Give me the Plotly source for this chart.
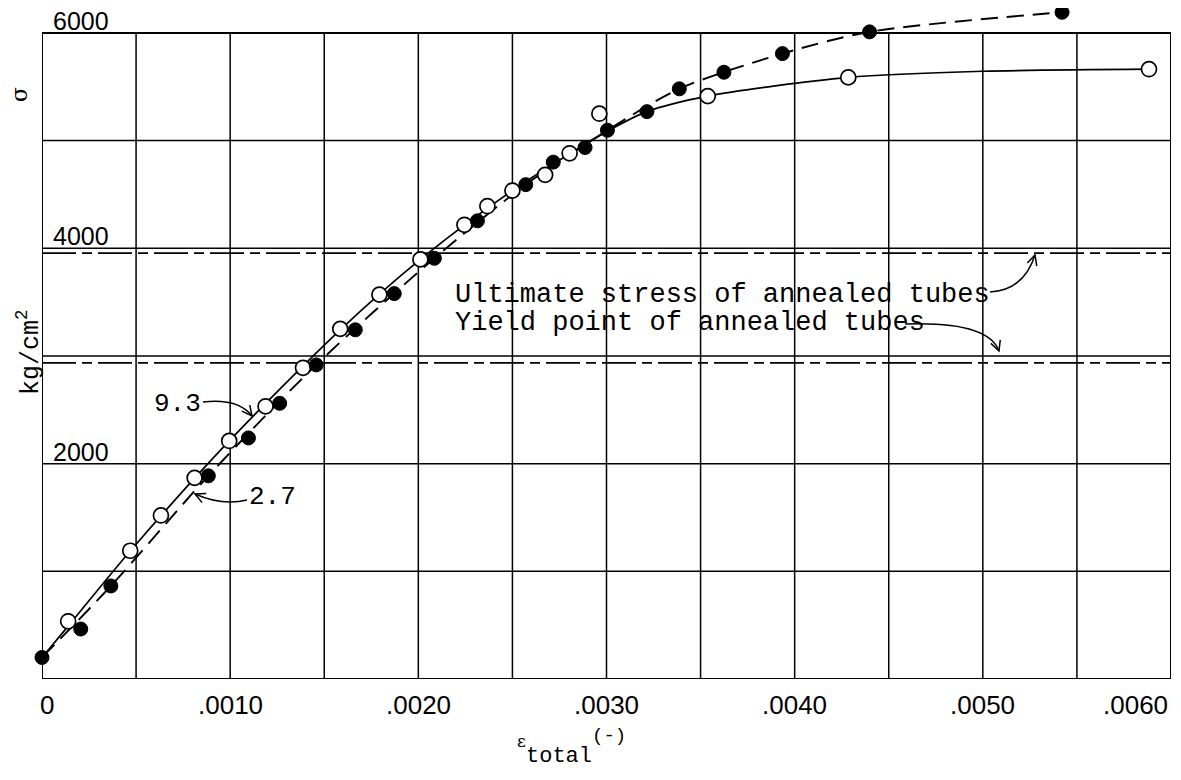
import math
import plotly.graph_objects as go

# ---------------- data ----------------
# open circles (curve "9.3", solid line)
open_x = [0.000139, 0.000469, 0.000632, 0.000811, 0.000995, 0.001188, 0.001387,
          0.001585, 0.001793, 0.002011, 0.002245, 0.002367, 0.002500, 0.002674,
          0.002804, 0.002962, 0.003538, 0.004285, 0.005883]
open_y = [536, 1191, 1519, 1868, 2211, 2532, 2890,
          3252, 3570, 3897, 4218, 4391, 4536, 4682,
          4882, 5250, 5413, 5587, 5663]

# filled circles (curve "2.7", dashed line)
filled_x = [0.0, 0.000206, 0.000366, 0.000884, 0.001097, 0.001263, 0.001457,
            0.001665, 0.001872, 0.002085, 0.002314, 0.002571, 0.002717, 0.002886,
            0.003005, 0.003215, 0.003387, 0.003624, 0.003935, 0.004398, 0.005421]
filled_y = [200, 464, 864, 1887, 2239, 2560, 2917,
            3243, 3579, 3907, 4255, 4591, 4800, 4936,
            5096, 5269, 5481, 5635, 5808, 6010, 6192]

# faired curves
curve93_x = [0.0, 0.000139, 0.000469, 0.000995, 0.001585, 0.002011, 0.002500,
             0.003005, 0.003215, 0.003538, 0.004285, 0.005000, 0.005883]
curve93_y = [200, 491, 1189, 2211, 3243, 3897, 4536,
             5087, 5269, 5413, 5587, 5644, 5663]
curve27_x = [0.0, 0.000366, 0.000884, 0.001457, 0.002085, 0.002571,
             0.003005, 0.003387, 0.003935, 0.004398, 0.005421]
curve27_y = [200, 864, 1887, 2917, 3907, 4591,
             5096, 5481, 5808, 6010, 6192]

ultimate_stress = 3955
yield_point = 2935

x_grid = [0.0005, 0.0010, 0.0015, 0.0020, 0.0025, 0.0030,
          0.0035, 0.0040, 0.0045, 0.0050, 0.0055]
y_grid = [1000, 2000, 3000, 4000, 5000]
x_tick_vals = [0.0, 0.0010, 0.0020, 0.0030, 0.0040, 0.0050, 0.0060]
x_tick_text = ["0", ".0010", ".0020", ".0030", ".0040", ".0050", ".0060"]
y_tick_vals = [2000, 4000, 6000]
y_tick_text = ["2000", "4000", "6000"]

X_MAX = 0.006
Y_TOP = 6000
Y_RANGE_TOP = 6213

# ---------------- layout (page pixel geometry) ----------------
BODY = 8                      # default page margin of the html body
PLOT_L, PLOT_R = 42, 1171     # page x of plot area
PLOT_T, PLOT_B = 10, 679      # page y of plot area
W = 1181 - 2 * BODY
H = 780 - 2 * BODY
ML = PLOT_L - BODY
MT = PLOT_T - BODY
MR = W - (PLOT_R - BODY)
MB = H - (PLOT_B - BODY)
PW = PLOT_R - PLOT_L
PH = PLOT_B - PLOT_T


def px2x(px):
    return (px - PLOT_L) / PW * X_MAX


def py2y(py):
    return (PLOT_B - py) / PH * Y_RANGE_TOP


def px2p(px):
    return (px - PLOT_L) / PW


def py2p(py):
    return (PLOT_B - py) / PH


fig = go.Figure()

fig.add_trace(go.Scatter(x=curve93_x, y=curve93_y, mode="lines",
                         line=dict(color="black", width=1.7, shape="spline", smoothing=0.8),
                         hoverinfo="skip", showlegend=False))
fig.add_trace(go.Scatter(x=curve27_x, y=curve27_y, mode="lines",
                         line=dict(color="black", width=1.9, shape="spline", smoothing=0.8,
                                   dash="17px,9px"),
                         hoverinfo="skip", showlegend=False))
fig.add_trace(go.Scatter(x=open_x, y=open_y, mode="markers", cliponaxis=False,
                         marker=dict(symbol="circle", size=15, color="white",
                                     line=dict(color="black", width=1.7)),
                         showlegend=False))
fig.add_trace(go.Scatter(x=filled_x, y=filled_y, mode="markers", cliponaxis=False,
                         marker=dict(symbol="circle", size=14, color="black",
                                     line=dict(color="black", width=1)),
                         showlegend=False))

shapes = []
for xv in x_grid:
    shapes.append(dict(type="line", xref="x", yref="y", x0=xv, x1=xv, y0=0, y1=Y_TOP,
                       line=dict(color="black", width=1.5), layer="below"))
for yv in y_grid:
    shapes.append(dict(type="line", xref="x", yref="y", x0=0, x1=X_MAX, y0=yv, y1=yv,
                       line=dict(color="black", width=1.5), layer="below"))
shapes.append(dict(type="rect", xref="x", yref="y", x0=0, x1=X_MAX, y0=0, y1=Y_TOP,
                   line=dict(color="black", width=2), layer="below"))
for yv in (ultimate_stress, yield_point):
    shapes.append(dict(type="line", xref="x", yref="y", x0=0, x1=X_MAX, y0=yv, y1=yv,
                       line=dict(color="black", width=1.8, dash="34px,6px,10px,6px"),
                       layer="below"))


def pt(p):
    return "{},{}".format(px2x(p[0]), py2y(p[1]))


# curved leader arrows: (start, control, tip)
arrow_paths = [
    ((990, 292), (1024, 290), (1035, 255)),   # ultimate
    ((905, 324), (988, 321), (999, 351)),     # yield
    ((203, 402), (238, 398), (252, 416)),     # 9.3
    ((247, 500), (222, 506), (195, 494)),     # 2.7
]
for p0, c, p1 in arrow_paths:
    shapes.append(dict(type="path", xref="x", yref="y",
                       path="M {} Q {} {}".format(pt(p0), pt(c), pt(p1)),
                       line=dict(color="black", width=1.5)))
    dx, dy = p1[0] - c[0], p1[1] - c[1]
    n = math.hypot(dx, dy)
    ux, uy = dx / n, dy / n
    L, Wd = 10, 5
    a = (p1[0] - ux * L - uy * Wd, p1[1] - uy * L + ux * Wd)
    b = (p1[0] - ux * L + uy * Wd, p1[1] - uy * L - ux * Wd)
    shapes.append(dict(type="path", xref="x", yref="y",
                       path="M {} L {} L {}".format(pt(a), pt(p1), pt(b)),
                       line=dict(color="black", width=1.5)))

annotations = []
mono = "Liberation Mono"
sans = "Liberation Sans"

annotations += [
    dict(x=px2x(453), y=py2y(295), xref="x", yref="y", xanchor="left", yanchor="middle",
         text="Ultimate stress of annealed tubes", showarrow=False,
         font=dict(family=mono, size=27, color="black")),
    dict(x=px2x(453), y=py2y(323), xref="x", yref="y", xanchor="left", yanchor="middle",
         text="Yield point of annealed tubes", showarrow=False,
         font=dict(family=mono, size=27, color="black")),
    dict(x=px2x(177), y=py2y(404), xref="x", yref="y", xanchor="center", yanchor="middle",
         text="9.3", showarrow=False, font=dict(family=mono, size=26, color="black")),
    dict(x=px2x(272), y=py2y(497), xref="x", yref="y", xanchor="center", yanchor="middle",
         text="2.7", showarrow=False, font=dict(family=mono, size=26, color="black")),
]

# y tick labels (inside the frame, above the grid line)
for v, t in zip(y_tick_vals, y_tick_text):
    annotations.append(dict(x=0, y=v, xref="x", yref="y", xanchor="left", yanchor="bottom",
                            xshift=10, yshift=-3, borderpad=0, text=t, showarrow=False,
                            font=dict(family=sans, size=25, color="black")))

# x tick labels
for v, t in zip(x_tick_vals, x_tick_text):
    anchor = "center"
    shift = 0
    if v == 0.0:
        shift = 5
    if v == X_MAX:
        anchor = "right"
        shift = -1
    annotations.append(dict(x=v / X_MAX, y=0, xref="paper", yref="paper", xanchor=anchor,
                            yanchor="top", xshift=shift, yshift=-9, text=t, showarrow=False,
                            font=dict(family=sans, size=26, color="black")))

# axis titles
annotations += [
    dict(x=px2p(19), y=py2p(95), xref="paper", yref="paper", xanchor="center",
         yanchor="middle", text="σ", textangle=-90, showarrow=False,
         font=dict(family="DejaVu Serif", size=22, color="black")),
    dict(x=px2p(29), y=py2p(352), xref="paper", yref="paper", xanchor="center",
         yanchor="middle", text="kg/cm<sup>2</sup>", textangle=-90, showarrow=False,
         font=dict(family=mono, size=25, color="black")),
    dict(x=px2p(521), y=py2p(741), xref="paper", yref="paper", xanchor="center",
         yanchor="middle", text="ε", showarrow=False,
         font=dict(family="DejaVu Serif", size=17, color="black")),
    dict(x=px2p(559), y=py2p(756), xref="paper", yref="paper", xanchor="center",
         yanchor="middle", text="total", showarrow=False,
         font=dict(family=mono, size=22, color="black")),
    dict(x=px2p(609), y=py2p(736), xref="paper", yref="paper", xanchor="center",
         yanchor="middle", text="(-)", showarrow=False,
         font=dict(family=mono, size=19, color="black")),
]

fig.update_layout(
    width=W, height=H,
    margin=dict(l=ML, r=MR, t=MT, b=MB, pad=0, autoexpand=False),
    paper_bgcolor="white", plot_bgcolor="white",
    showlegend=False,
    shapes=shapes, annotations=annotations,
    xaxis=dict(range=[0, X_MAX], showgrid=False, zeroline=False, showline=False,
               showticklabels=False, ticks=""),
    yaxis=dict(range=[0, Y_RANGE_TOP], showgrid=False, zeroline=False, showline=False,
               showticklabels=False, ticks=""),
)

fig.write_html("out.html")
